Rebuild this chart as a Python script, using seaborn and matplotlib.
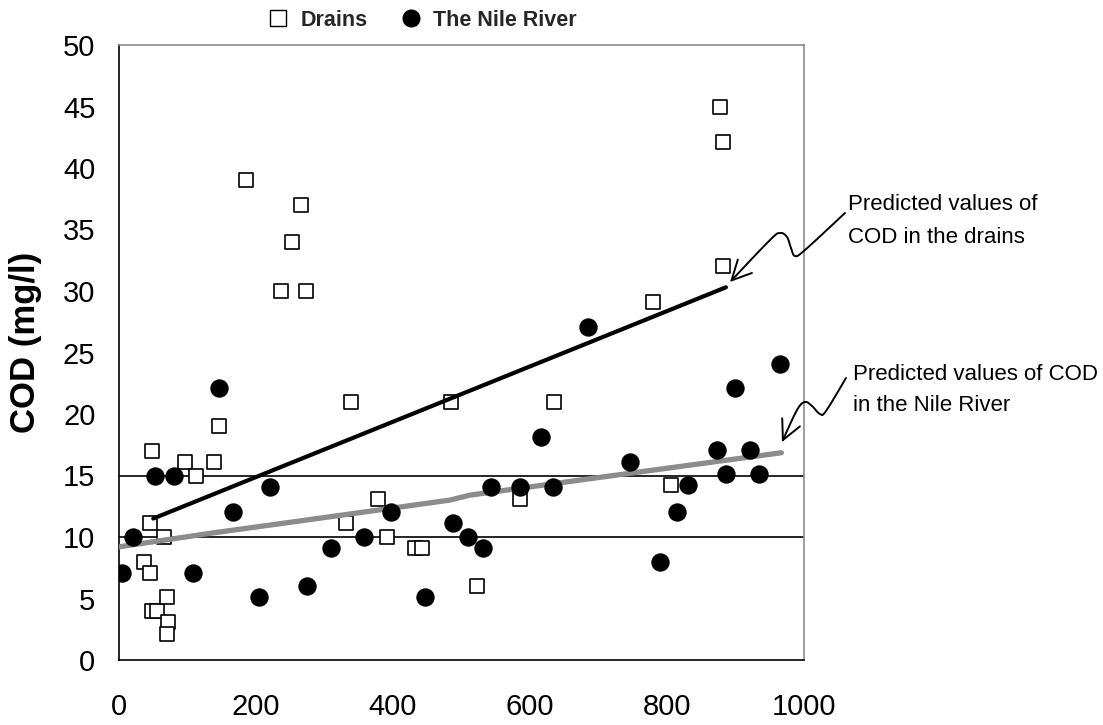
import numpy as np
import pandas as pd
import matplotlib
matplotlib.use("Agg")
import matplotlib.pyplot as plt
import seaborn as sns
from matplotlib.lines import Line2D
from matplotlib.patches import FancyArrowPatch
from matplotlib.path import Path

# ---------------- data ----------------
drains_x = [48, 97, 113, 138, 146, 45, 65, 37, 45, 48, 56, 70, 72, 70,
            185, 265, 252, 237, 273, 339, 485, 635, 378, 586, 331, 391,
            432, 443, 523, 779, 806, 877, 882, 882]
drains_y = [17, 16.1, 15, 16.1, 19, 11.1, 10, 8, 7.1, 4, 4, 5.1, 3.1, 2.1,
            39, 37, 34, 30, 30, 21, 21, 21, 13.1, 13.1, 11.1, 10,
            9.1, 9.1, 6, 29.1, 14.2, 45, 42.1, 32]

nile_x = [4, 20, 53, 81, 108, 146, 166, 204, 221, 275, 309, 358, 397, 446,
          487, 510, 531, 543, 586, 616, 633, 685, 746, 790, 814, 831, 873,
          886, 899, 921, 935, 965]
nile_y = [7.1, 10, 15, 15, 7.1, 22.1, 12, 5.1, 14.1, 6, 9.1, 10, 12, 5.1,
          11.1, 10, 9.1, 14.1, 14.1, 18.1, 14.1, 27.1, 16.1, 8, 12, 14.2, 17.1,
          15.1, 22.1, 17.1, 15.1, 24.1]

# predicted values (model lines)
drains_pred_x = [50, 886]
drains_pred_y = [11.5, 30.3]
nile_pred_x = [0, 133, 270, 483, 512, 702, 967]
nile_pred_y = [9.2, 10.3, 11.35, 13.0, 13.4, 14.85, 16.85]

ref_levels = [10, 15]
x_ticks = [0, 200, 400, 600, 800, 1000]
y_ticks = [0, 5, 10, 15, 20, 25, 30, 35, 40, 45, 50]

legend_labels = ["Drains", "The Nile River"]
y_label = "COD (mg/l)"
note_drains = "Predicted values of\nCOD in the drains"
note_nile = "Predicted values of COD\nin the Nile River"

# ---------------- style ----------------
sns.set_theme(style="white")
plt.rcParams['font.family'] = ['Liberation Sans', 'DejaVu Sans']

W, H = 1103, 725
fig = plt.figure(figsize=(W / 100, H / 100), dpi=100)
fig.patch.set_facecolor('white')
ax = fig.add_axes([119 / W, 65 / H, (804 - 119) / W, (660 - 45) / H])
ax.set_facecolor('white')

df_d = pd.DataFrame({'x': drains_x, 'y': drains_y})
df_n = pd.DataFrame({'x': nile_x, 'y': nile_y})
df_dp = pd.DataFrame({'x': drains_pred_x, 'y': drains_pred_y})
df_np = pd.DataFrame({'x': nile_pred_x, 'y': nile_pred_y})

for lv in ref_levels:
    ax.axhline(lv, color='black', lw=1.2, zorder=1)

sns.scatterplot(data=df_d, x='x', y='y', marker='s', s=110, color='white',
                edgecolor='black', linewidth=1.2, ax=ax, zorder=2, legend=False)
sns.lineplot(data=df_np, x='x', y='y', color='#8c8c8c', lw=3.8, ax=ax,
             zorder=3, legend=False)
sns.lineplot(data=df_dp, x='x', y='y', color='black', lw=3.0, ax=ax,
             zorder=3, legend=False)
sns.scatterplot(data=df_n, x='x', y='y', marker='o', s=175, color='black',
                edgecolor='black', linewidth=0, ax=ax, zorder=4, legend=False)

ax.set_xlim(0, 1000)
ax.set_ylim(0, 50)
ax.set_xticks(x_ticks)
ax.set_yticks(y_ticks)
ax.tick_params(axis='both', direction='inout', length=14, width=1.0,
               color='black', labelsize=21, labelcolor='black')
ax.tick_params(axis='y', pad=10)
ax.tick_params(axis='x', pad=17)
ax.set_xlabel('')
ax.set_ylabel(y_label, fontsize=25, fontweight='bold', color='black')
ax.yaxis.set_label_coords(-0.112, 0.517)

for side in ['left', 'bottom']:
    ax.spines[side].set_color('black')
    ax.spines[side].set_linewidth(1.2)
for side in ['top', 'right']:
    ax.spines[side].set_color('#8c8c8c')
    ax.spines[side].set_linewidth(1.2)
ax.grid(False)

# legend
handles = [
    Line2D([], [], marker='s', ls='', mfc='white', mec='black', mew=1.0, ms=11),
    Line2D([], [], marker='o', ls='', mfc='black', mec='black', ms=12),
]
fig.legend(handles, legend_labels, loc='center', bbox_to_anchor=(422 / W, 1 - 20 / H),
           ncol=2, frameon=False, handletextpad=0.55, columnspacing=1.5,
           handlelength=1.0, prop={'weight': 'bold', 'size': 15.5})

# annotations
fig.text(848 / W, 1 - 221 / H, note_drains, ha='left', va='center',
         fontsize=16, linespacing=1.7, color='black')
fig.text(853 / W, 1 - 390 / H, note_nile, ha='left', va='center',
         fontsize=16, linespacing=1.6, color='black')


def smooth(pts, n=12):
    pts = np.asarray(pts, float)
    p = np.vstack([pts[0], pts, pts[-1]])
    out = []
    for i in range(1, len(p) - 2):
        p0, p1, p2, p3 = p[i - 1], p[i], p[i + 1], p[i + 2]
        for t in np.linspace(0, 1, n, endpoint=False):
            t2, t3 = t * t, t * t * t
            out.append(0.5 * ((2 * p1) + (-p0 + p2) * t +
                              (2 * p0 - 5 * p1 + 4 * p2 - p3) * t2 +
                              (-p0 + 3 * p1 - 3 * p2 + p3) * t3))
    out.append(p[-2])
    return np.array(out)


def squiggle(pts):
    s = smooth(pts)
    verts = [(x / W, 1 - y / H) for x, y in s]
    path = Path(verts, [Path.MOVETO] + [Path.LINETO] * (len(verts) - 1))
    arr = FancyArrowPatch(path=path, arrowstyle='->,head_length=0.7,head_width=0.35',
                          mutation_scale=20, lw=1.4, color='black',
                          transform=fig.transFigure)
    fig.patches.append(arr)


squiggle([(845, 213), (805, 250), (795, 256), (791, 248), (787, 237),
          (780, 233), (770, 240), (730, 282)])
squiggle([(846, 378), (826, 411), (820, 414), (812, 406), (805, 402),
          (797, 410), (782, 442)])

fig.savefig('out.png', dpi=100, facecolor='white')
